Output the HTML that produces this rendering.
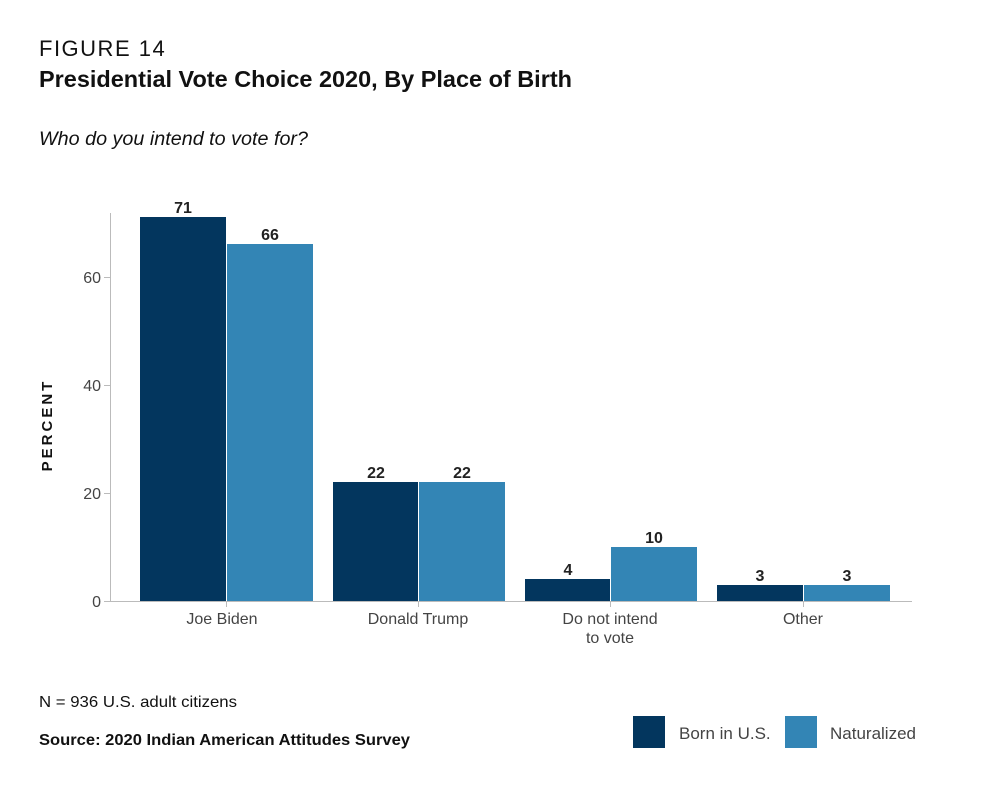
<!DOCTYPE html>
<html><head><meta charset="utf-8"><style>
html,body{margin:0;padding:0;background:#fff;}
svg{display:block;font-family:"Liberation Sans",sans-serif;}
</style></head><body>
<svg width="1000" height="787" viewBox="0 0 1000 787" xmlns="http://www.w3.org/2000/svg">
<text x="39" y="56" font-size="22" fill="#111" letter-spacing="1.5">FIGURE 14</text>
<text x="39" y="87" font-size="23" font-weight="bold" fill="#111" textLength="533" lengthAdjust="spacingAndGlyphs">Presidential Vote Choice 2020, By Place of Birth</text>
<text x="39" y="145" font-size="19" font-style="italic" fill="#111" textLength="269" lengthAdjust="spacingAndGlyphs">Who do you intend to vote for?</text>
<g stroke="#bbb" stroke-width="1">
<line x1="110.5" y1="213" x2="110.5" y2="601"/>
<line x1="110" y1="601.5" x2="912" y2="601.5"/>
<line x1="104" y1="601.5" x2="110" y2="601.5"/>
<line x1="104" y1="493.5" x2="110" y2="493.5"/>
<line x1="104" y1="385.5" x2="110" y2="385.5"/>
<line x1="104" y1="277.5" x2="110" y2="277.5"/>
<line x1="226.5" y1="601" x2="226.5" y2="607"/>
<line x1="418.5" y1="601" x2="418.5" y2="607"/>
<line x1="610.5" y1="601" x2="610.5" y2="607"/>
<line x1="803.5" y1="601" x2="803.5" y2="607"/>
</g>
<g font-size="16" fill="#444" text-anchor="end">
<text x="101" y="607">0</text><text x="101" y="499">20</text><text x="101" y="391">40</text><text x="101" y="283">60</text>
</g>
<text transform="translate(52,425) rotate(-90)" font-size="15" font-weight="bold" letter-spacing="3" text-anchor="middle" fill="#111">PERCENT</text>
<g fill="#03365e">
<rect x="140" y="217" width="86" height="384"/>
<rect x="333" y="482" width="85" height="119"/>
<rect x="525" y="579" width="85" height="22"/>
<rect x="717" y="585" width="86" height="16"/>
</g>
<g fill="#3385b5">
<rect x="227" y="244" width="86" height="357"/>
<rect x="419" y="482" width="86" height="119"/>
<rect x="611" y="547" width="86" height="54"/>
<rect x="804" y="585" width="86" height="16"/>
</g>
<g font-size="16" font-weight="bold" fill="#222" text-anchor="middle">
<text x="183" y="213">71</text><text x="270" y="240">66</text>
<text x="376" y="478">22</text><text x="462" y="478">22</text>
<text x="568" y="575">4</text><text x="654" y="543">10</text>
<text x="760" y="581">3</text><text x="847" y="581">3</text>
</g>
<g font-size="16" fill="#444" text-anchor="middle">
<text x="222" y="624">Joe Biden</text>
<text x="418" y="624">Donald Trump</text>
<text x="610" y="624">Do not intend</text>
<text x="610" y="643">to vote</text>
<text x="803" y="624">Other</text>
</g>
<text x="39" y="707" font-size="16" fill="#111" textLength="198" lengthAdjust="spacingAndGlyphs">N = 936 U.S. adult citizens</text>
<text x="39" y="745" font-size="16" font-weight="bold" fill="#111" textLength="371" lengthAdjust="spacingAndGlyphs">Source: 2020 Indian American Attitudes Survey</text>
<rect x="633" y="716" width="32" height="32" fill="#03365e"/>
<text x="679" y="739" font-size="17" fill="#444">Born in U.S.</text>
<rect x="785" y="716" width="32" height="32" fill="#3385b5"/>
<text x="830" y="739" font-size="17" fill="#444">Naturalized</text>
</svg>
</body></html>
